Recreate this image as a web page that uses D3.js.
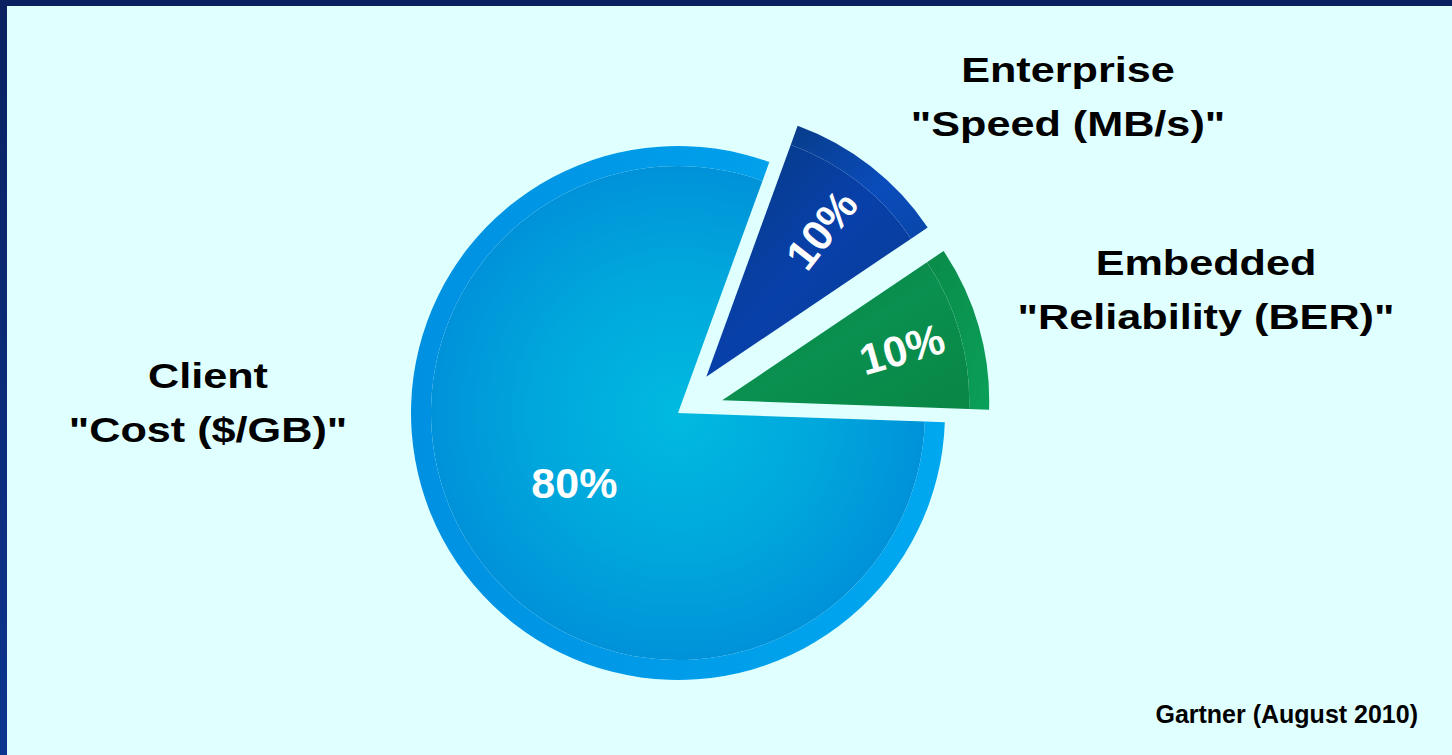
<!DOCTYPE html>
<html>
<head>
<meta charset="utf-8">
<script src="https://cdn.jsdelivr.net/npm/d3@7"></script>
<style>
  html, body { margin: 0; padding: 0; background: #e0ffff; overflow: hidden; }
  svg { display: block; }
</style>
</head>
<body>
<script>
// ---- data ----
const categories = ["Client", "Enterprise", "Embedded"];
const subtitles = ['"Cost ($/GB)"', '"Speed (MB/s)"', '"Reliability (BER)"'];
const shares = [80, 10, 10];
const shareLabels = ["80%", "10%", "10%"];
const sourceNote = "Gartner (August 2010)";

// ---- layout ----
const W = 1452, H = 755;
const cx = 678, cy = 413, R = 267, band = 20, explode = 46;
const startDeg = 92;
const labelPos = [ {x: 208, y: 388}, {x: 1068, y: 82}, {x: 1206, y: 275} ];
const lineGap = 54;
const FONT = "'Liberation Sans', Arial, Helvetica, sans-serif";

const svg = d3.select("body").append("svg").attr("width", W).attr("height", H)
  .style("font-family", FONT).style("font-weight", "bold");
const defs = svg.append("defs");

function lin(id, x1, y1, x2, y2, stops) {
  const g = defs.append("linearGradient").attr("id", id)
    .attr("x1", x1).attr("y1", y1).attr("x2", x2).attr("y2", y2);
  stops.forEach(s => g.append("stop").attr("offset", s[0]).attr("stop-color", s[1]));
}
function rad(id, stops, cxp, cyp, r) {
  const g = defs.append("radialGradient").attr("id", id)
    .attr("gradientUnits", "userSpaceOnUse").attr("cx", cxp).attr("cy", cyp).attr("r", r);
  stops.forEach(s => g.append("stop").attr("offset", s[0]).attr("stop-color", s[1]));
}
// frame
lin("frameL", 0, 0, 0, 1, [[0, "#0a2060"], [1, "#0c3590"]]);

// slice fills
rad("fill0", [[0, "#00bae0"], [0.55, "#00a6dc"], [1, "#008ed8"]], 0, 0, R);
lin("band0", 0, 0, 1, 0, [[0, "#0090e2"], [1, "#00a8f0"]]);
lin("fill1", 0, 0, 1, 1, [[0, "#073a80"], [0.5, "#0840aa"], [1, "#083c90"]]);
lin("band1", 0, 0, 1, 1, [[0, "#073c88"], [0.6, "#0a4cbc"], [1, "#0846a8"]]);
lin("fill2", 0, 0, 1, 1, [[0, "#0a7a3a"], [0.5, "#0a9050"], [1, "#088644"]]);
lin("band2", 0, 0, 1, 1, [[0, "#0a8a48"], [1, "#0aa05a"]]);

// background
svg.append("rect").attr("width", W).attr("height", H).attr("fill", "#e0ffff");
svg.append("rect").attr("x", 0).attr("y", 0).attr("width", 7).attr("height", H).attr("fill", "url(#frameL)");
svg.append("rect").attr("x", 0).attr("y", 0).attr("width", W).attr("height", 6).attr("fill", "#0a2060");

const toRad = d => d * Math.PI / 180;
const pie = d3.pie().sort(null).value(d => d)
  .startAngle(toRad(startDeg)).endAngle(toRad(startDeg + 360));
const arcs = pie(shares);

const innerArc = d3.arc().innerRadius(0).outerRadius(R - band);
const bandArc = d3.arc().innerRadius(R - band).outerRadius(R);

const root = svg.append("g").attr("transform", `translate(${cx},${cy})`);

arcs.forEach((a, i) => {
  const mid = (a.startAngle + a.endAngle) / 2;
  const off = i === 0 ? 0 : explode;
  const dx = Math.sin(mid) * off, dy = -Math.cos(mid) * off;
  const g = root.append("g").attr("transform", `translate(${dx},${dy})`);
  g.append("path").attr("d", bandArc(a)).attr("fill", `url(#band${i})`);
  g.append("path").attr("d", innerArc(a)).attr("fill", `url(#fill${i})`);

  const lr = i === 0 ? 125 : 0.7 * R;
  const lx = Math.sin(mid) * lr, ly = -Math.cos(mid) * lr;
  const rot = i === 0 ? 0 : (mid * 180 / Math.PI - 90);
  g.append("text")
    .attr("transform", `translate(${lx},${ly}) rotate(${rot})`)
    .attr("text-anchor", "middle").attr("dy", "0.36em")
    .attr("font-family", FONT).attr("font-weight", "bold")
    .attr("fill", "#ffffff").attr("font-size", 43)
    .text(shareLabels[i]);
});

// category labels
categories.forEach((c, i) => {
  const p = labelPos[i];
  [c, subtitles[i]].forEach((t, k) => {
    svg.append("text")
      .attr("transform", `translate(${p.x},${p.y + k * lineGap}) scale(1.2,1)`)
      .attr("text-anchor", "middle")
      .attr("font-family", FONT).attr("font-weight", "bold")
      .attr("font-size", 36).attr("fill", "#000000")
      .text(t);
  });
});

svg.append("text").attr("x", 1418).attr("y", 723)
  .attr("text-anchor", "end")
  .attr("font-family", FONT).attr("font-weight", "bold")
  .attr("font-size", 25).attr("fill", "#000000")
  .text(sourceNote);
</script>
</body>
</html>
